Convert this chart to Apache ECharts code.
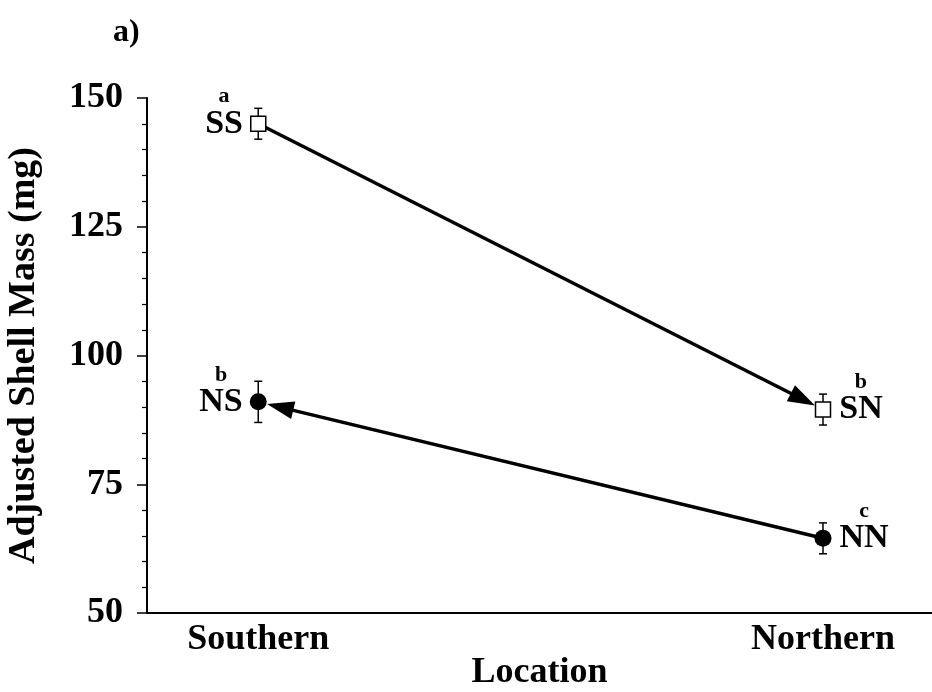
<!DOCTYPE html>
<html>
<head>
<meta charset="utf-8">
<script src="https://cdn.jsdelivr.net/npm/echarts@6/dist/echarts.min.js"></script>
<style>
  html, body { margin: 0; padding: 0; background: #fff; }
  #chart { width: 932px; height: 692px; }
</style>
</head>
<body>
<div id="chart"></div>
<script>
// locations on the x axis (0 = Southern, 1 = Northern)
const locations = ['Southern', 'Northern']
const yTicks = [50, 75, 100, 125, 150]

// snails of southern origin: SS at Southern, SN at Northern
const southNames = ['SS', 'SN']
const southMean = [145, 89.5]
const southErr = [3, 3]
const southLetters = ['a', 'b']

// snails of northern origin: NS at Southern, NN at Northern
const northNames = ['NS', 'NN']
const northMean = [91, 64.5]
const northErr = [4, 3]
const northLetters = ['b', 'c']

const font = 'Liberation Serif'

const chart = echarts.init(document.getElementById('chart'))

function pointData(means, names, letters) {
  return means.map((m, i) => ({
    value: [i, m],
    name: names[i],
    letter: letters[i],
    label: {
      position: i === 0 ? 'left' : 'right',
      distance: i === 0 ? 7 : 8
    }
  }))
}

const labelStyle = {
  show: true,
  offset: [0, -11],
  formatter: p => '{s|' + p.data.letter + '}\n{m|' + p.data.name + '}',
  rich: {
    s: { fontFamily: font, fontWeight: 'bold', fontSize: 22, lineHeight: 22, align: 'center', color: '#000' },
    m: { fontFamily: font, fontWeight: 'bold', fontSize: 34, lineHeight: 32, align: 'center', color: '#000' }
  }
}

// error bars: [x, mean, err]
function errorSeries(means, errs) {
  return {
    type: 'custom',
    z: 2,
    silent: true,
    data: means.map((m, i) => [i, m, errs[i]]),
    renderItem: function (params, api) {
      const x = api.value(0)
      const top = api.coord([x, api.value(1) + api.value(2)])
      const bot = api.coord([x, api.value(1) - api.value(2)])
      const w = 4
      const st = { stroke: '#000', lineWidth: 1.5 }
      return {
        type: 'group',
        children: [
          { type: 'line', shape: { x1: top[0], y1: top[1], x2: bot[0], y2: bot[1] }, style: st },
          { type: 'line', shape: { x1: top[0] - w, y1: top[1], x2: top[0] + w, y2: top[1] }, style: st },
          { type: 'line', shape: { x1: bot[0] - w, y1: bot[1], x2: bot[0] + w, y2: bot[1] }, style: st }
        ]
      }
    }
  }
}

// arrow from one location to the other: [x1, y1, x2, y2]
function arrowSeries(means, from, to) {
  return {
    type: 'custom',
    z: 1,
    silent: true,
    data: [[from, means[from], to, means[to]]],
    renderItem: function (params, api) {
      const a = api.coord([api.value(0), api.value(1)])
      const b = api.coord([api.value(2), api.value(3)])
      const dx = b[0] - a[0], dy = b[1] - a[1]
      const len = Math.sqrt(dx * dx + dy * dy)
      const ux = dx / len, uy = dy / len
      const nx = -uy, ny = ux
      const tip = [b[0] - ux * 9, b[1] - uy * 9]
      const base = [tip[0] - ux * 27, tip[1] - uy * 27]
      return {
        type: 'group',
        children: [
          { type: 'line', shape: { x1: a[0], y1: a[1], x2: base[0] + ux * 2, y2: base[1] + uy * 2 }, style: { stroke: '#000', lineWidth: 3.5 } },
          {
            type: 'polygon',
            shape: { points: [tip, [base[0] + nx * 9, base[1] + ny * 9], [base[0] - nx * 9, base[1] - ny * 9]] },
            style: { fill: '#000' }
          }
        ]
      }
    }
  }
}

chart.setOption({
  animation: false,
  backgroundColor: '#fff',
  title: {
    text: 'a)',
    left: 108,
    top: 12,
    textStyle: { fontFamily: font, fontWeight: 'bold', fontSize: 32, color: '#000' }
  },
  grid: { left: 147, right: 0, top: 98, bottom: 79, outerBoundsMode: 'none', containLabel: false },
  xAxis: {
    type: 'value',
    min: -0.197,
    max: 1.193,
    name: 'Location',
    nameLocation: 'middle',
    nameGap: 42,
    nameMoveOverlap: false,
    nameTextStyle: { fontFamily: font, fontWeight: 'bold', fontSize: 36, color: '#000' },
    axisLine: { onZero: false, lineStyle: { color: '#000', width: 2 } },
    axisTick: { show: false },
    splitLine: { show: false },
    axisLabel: {
      customValues: [0, 1],
      formatter: v => locations[Math.round(v)],
      margin: 9,
      fontFamily: font,
      fontWeight: 'bold',
      fontSize: 36,
      color: '#000'
    }
  },
  yAxis: {
    type: 'value',
    min: yTicks[0],
    max: yTicks[yTicks.length - 1],
    interval: 25,
    name: 'Adjusted Shell Mass (mg)',
    nameLocation: 'middle',
    nameGap: 104,
    nameMoveOverlap: false,
    nameTextStyle: { fontFamily: font, fontWeight: 'bold', fontSize: 38, color: '#000' },
    axisLine: { show: true, onZero: false, lineStyle: { color: '#000', width: 2 } },
    axisTick: { show: true, length: 10, lineStyle: { color: '#000', width: 1.5 } },
    minorTick: { show: true, splitNumber: 5, length: 5, lineStyle: { color: '#000', width: 1.2 } },
    splitLine: { show: false },
    axisLabel: {
      margin: 24,
      fontFamily: font,
      fontWeight: 'bold',
      fontSize: 36,
      color: '#000'
    }
  },
  series: [
    arrowSeries(southMean, 0, 1),
    arrowSeries(northMean, 1, 0),
    errorSeries(southMean, southErr),
    errorSeries(northMean, northErr),
    {
      type: 'scatter',
      z: 3,
      symbol: 'rect',
      symbolSize: 15,
      itemStyle: { color: '#fff', borderColor: '#000', borderWidth: 1.5, opacity: 1 },
      label: labelStyle,
      data: pointData(southMean, southNames, southLetters)
    },
    {
      type: 'scatter',
      z: 3,
      symbol: 'circle',
      symbolSize: 17,
      itemStyle: { color: '#000', opacity: 1 },
      label: labelStyle,
      data: pointData(northMean, northNames, northLetters)
    }
  ]
})
</script>
</body>
</html>
